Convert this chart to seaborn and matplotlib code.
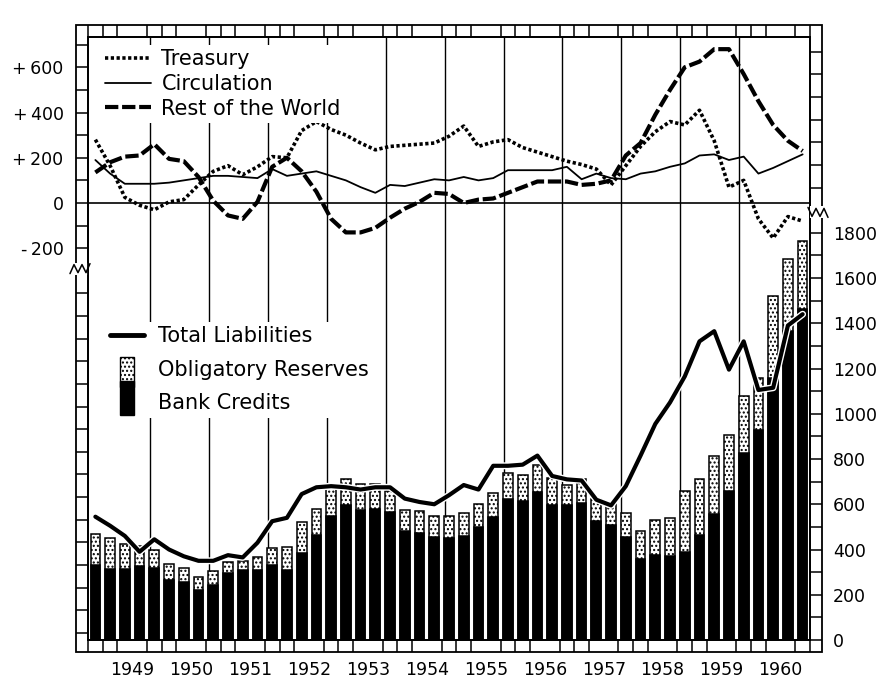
import matplotlib
matplotlib.use("Agg")
import matplotlib.pyplot as plt
import matplotlib.patheffects as pe
from matplotlib.lines import Line2D
from matplotlib.patches import Patch, Rectangle
from matplotlib.legend_handler import HandlerPatch
from matplotlib.ticker import FixedLocator, FuncFormatter
import numpy as np
import pandas as pd
import seaborn as sns

# ---------------- data (quarterly) ----------------
years = ["1949", "1950", "1951", "1952", "1953", "1954",
         "1955", "1956", "1957", "1958", "1959", "1960"]
quarter = list(range(49))

bank_credits = [330, 315, 315, 325, 320, 265, 255, 220, 245, 295,
                310, 310, 330, 310, 385, 465, 550, 595, 575, 580,
                565, 480, 475, 455, 450, 460, 500, 545, 625, 615,
                655, 595, 595, 605, 525, 510, 455, 360, 375, 370,
                390, 465, 555, 660, 825, 930, 1160, 1365, 1465]
obligatory_reserves = [140, 135, 110, 90, 80, 70, 65, 60, 60, 50,
                       40, 55, 75, 100, 135, 115, 120, 115, 115, 110,
                       95, 95, 95, 95, 100, 100, 100, 105, 115, 115,
                       120, 120, 90, 105, 100, 90, 105, 120, 155, 170,
                       270, 245, 260, 245, 255, 230, 360, 320, 300]
total_liabilities = [545, 505, 460, 390, 445, 400, 370, 350, 350, 375,
                     365, 430, 525, 540, 645, 675, 680, 675, 665, 675,
                     675, 625, 610, 600, 640, 685, 665, 770, 770, 775,
                     815, 725, 710, 705, 620, 595, 680, 815, 955, 1050,
                     1165, 1320, 1365, 1195, 1320, 1105, 1115, 1390, 1440]
treasury = [280, 165, 25, -10, -30, 5, 15, 80, 140, 165,
            125, 160, 205, 200, 320, 360, 325, 300, 265, 235,
            250, 255, 260, 265, 295, 340, 250, 270, 280, 245,
            225, 205, 185, 170, 150, 80, 165, 250, 315, 360,
            345, 410, 275, 70, 100, -70, -155, -60, -80]
circulation = [190, 130, 85, 85, 85, 90, 100, 110, 120, 120,
               115, 110, 150, 120, 130, 140, 120, 100, 70, 45,
               80, 75, 90, 105, 100, 115, 100, 110, 145, 145,
               145, 145, 160, 105, 130, 110, 105, 130, 140, 160,
               175, 210, 215, 190, 205, 130, 155, 185, 215]
rest_of_world = [135, 180, 205, 210, 260, 195, 185, 115, 10, -55,
                 -70, 5, 160, 200, 140, 50, -70, -130, -130, -110,
                 -65, -25, 5, 45, 40, 0, 15, 20, 45, 70,
                 95, 95, 95, 80, 85, 100, 210, 265, 390, 500,
                 600, 625, 680, 680, 570, 450, 345, 275, 230]

left_labels = {600: "+\u2009600", 400: "+\u2009400", 200: "+\u2009200",
               0: "0", -200: "-\u2009200"}
right_labels = [0, 200, 400, 600, 800, 1000, 1200, 1400, 1600, 1800]

# ---------------- style ----------------
sns.set_theme(style="white")
plt.rcParams.update({
    "font.family": ["DejaVu Sans"],
    "hatch.linewidth": 1.0,
    "hatch.color": "black",
    "axes.edgecolor": "black",
    "axes.linewidth": 1.3,
    "text.color": "black",
    "xtick.color": "black",
    "ytick.color": "black",
    "xtick.labelcolor": "black",
    "ytick.labelcolor": "black",
})

df = pd.DataFrame({
    "quarter": quarter,
    "bank_credits": bank_credits,
    "obligatory_reserves": obligatory_reserves,
    "total_liabilities": total_liabilities,
    "treasury": treasury,
    "circulation": circulation,
    "rest_of_world": rest_of_world,
})
df["bar_top"] = df["bank_credits"] + df["obligatory_reserves"]

W, H = 882, 686
fig = plt.figure(figsize=(W / 100, H / 100), dpi=100)
L, R, T, B = 88, 810, 37, 640          # inner frame in pixels
ax = fig.add_axes([L / W, (H - B) / H, (R - L) / W, (B - T) / H])
ax2 = ax.twinx()
PX = 4.42                                # value units per pixel (both scales)
zero_px = 203

# ---------------- bars + total liabilities (right scale) ----------------
sns.barplot(data=df, x="quarter", y="bar_top", native_scale=True, width=0.66,
            color="white", saturation=1, edgecolor="black", linewidth=1.1,
            hatch="....", errorbar=None, ax=ax2, zorder=2)
sns.barplot(data=df, x="quarter", y="bank_credits", native_scale=True, width=0.66,
            color="black", saturation=1, edgecolor="black", linewidth=1.1,
            errorbar=None, ax=ax2, zorder=3)
sns.lineplot(data=df, x="quarter", y="total_liabilities", color="black",
             linewidth=3.0, ax=ax2, zorder=4,
             path_effects=[pe.Stroke(linewidth=5, foreground="white"), pe.Normal()])

# ---------------- top lines (left scale) ----------------
for k in range(1, 12):
    ax.axvline(4 * k - 0.3, color="black", lw=1.0, zorder=0)
ax.axhline(0, color="black", lw=1.2, zorder=0)

dot_style = (0, (0.9, 0.7))
dash_style = (0, (3.2, 0.9))
sns.lineplot(data=df, x="quarter", y="treasury", color="black", linewidth=2.6,
             linestyle=dot_style, ax=ax, zorder=3)
sns.lineplot(data=df, x="quarter", y="circulation", color="black", linewidth=1.3,
             ax=ax, zorder=3)
sns.lineplot(data=df, x="quarter", y="rest_of_world", color="black", linewidth=3.0,
             linestyle=dash_style, ax=ax, zorder=3)

# ---------------- limits & ticks ----------------
ax.set_xlim(-0.3, 48.4)
ax.set_ylim(-(B - zero_px) * PX, (zero_px - T) * PX)
ax2.set_ylim(0, (B - T) * PX)

ax.set_xticks([4 * k + 2.5 for k in range(12)])
ax.set_xticklabels(years)
ax.set_xticks([i + 0.5 for i in range(-1, 49)], minor=True)
ax.tick_params(axis="x", which="major", length=0, pad=15, labelsize=12.5,
               bottom=True, top=False, labelcolor="black")
ax.tick_params(axis="x", which="minor", direction="out", length=8.6, width=1.1,
               bottom=True, top=True, color="black")

ax.yaxis.set_major_locator(FixedLocator(list(range(-1900, 701, 100))))
ax.yaxis.set_major_formatter(FuncFormatter(lambda v, p: left_labels.get(int(round(v)), "")))
ax.tick_params(axis="y", which="major", direction="out", length=8.6, width=1.1,
               pad=9, labelsize=12.5, left=True, right=False, color="black",
               labelcolor="black")

ax2.yaxis.set_major_locator(FixedLocator(list(range(0, 2601, 100))))
ax2.yaxis.set_major_formatter(FuncFormatter(
    lambda v, p: str(int(round(v))) if int(round(v)) in right_labels else ""))
ax2.tick_params(axis="y", which="major", direction="out", length=8.6, width=1.1,
                pad=8, labelsize=12.5, right=True, left=False, color="black",
                labelcolor="black")
for a in (ax, ax2):
    a.set_xlabel("")
    a.set_ylabel("")
    a.grid(False)

# outer ruler frame
dx, dy = 12 / (R - L), 12 / (B - T)
ax.add_patch(Rectangle((-dx, -dy), 1 + 2 * dx, 1 + 2 * dy, transform=ax.transAxes,
                       fill=False, lw=1.3, edgecolor="black", clip_on=False, zorder=5))

# scale breaks
def zigzag(a, x0_px, y_frac, side):
    xs = np.array([-4, 0, 4, 8, 12, 16]) * side
    ys = np.array([5, -4, 4, -4, 4, -5])
    a.add_patch(Rectangle((x0_px / (R - L) + (-2 if side > 0 else -16) / (R - L), y_frac - 6 / (B - T)),
                          18 / (R - L), 12 / (B - T), transform=a.transAxes,
                          facecolor="white", edgecolor="none", clip_on=False, zorder=6))
    a.plot(x0_px / (R - L) + xs / (R - L), y_frac + ys / (B - T), color="black",
           lw=1.1, transform=a.transAxes, clip_on=False, zorder=7)

ylo, yhi = ax.get_ylim()
zigzag(ax, -2, (-290 - ylo) / (yhi - ylo), -1)
zigzag(ax2, (R - L) + 2, 1890 / ((B - T) * PX), 1)

# ---------------- legends ----------------
h_tr = Line2D([], [], color="black", lw=2.6, linestyle=dot_style)
h_ci = Line2D([], [], color="black", lw=1.3)
h_rw = Line2D([], [], color="black", lw=3.0, linestyle=dash_style)
leg1 = ax.legend([h_tr, h_ci, h_rw], ["Treasury", "Circulation", "Rest of the World"],
                 loc="upper left", bbox_to_anchor=(0.018, 0.987), borderaxespad=0,
                 borderpad=0.2, handlelength=2.2, handletextpad=0.5, labelspacing=0.23,
                 fontsize=15, frameon=True, fancybox=False, edgecolor="none",
                 facecolor="white", framealpha=1, labelcolor="black")

h_tl = Line2D([], [], color="black", lw=3.5)
h_res = Patch(facecolor="white", edgecolor="black", hatch="....", linewidth=1.0)
h_bc = Patch(facecolor="black", edgecolor="black", linewidth=1.0)

def res_bar(legend, orig_handle, xdescent, ydescent, width, height, fontsize):
    return Rectangle((-xdescent + 0.3 * width, -ydescent - 0.55 * fontsize),
                     0.4 * width, height + 0.75 * fontsize)

def bc_bar(legend, orig_handle, xdescent, ydescent, width, height, fontsize):
    return Rectangle((-xdescent + 0.3 * width, -ydescent - 0.25 * fontsize),
                     0.4 * width, height + 0.9 * fontsize)

leg2 = ax2.legend([h_tl, h_res, h_bc], ["Total Liabilities", "Obligatory Reserves", "Bank Credits"],
                  loc="upper left", bbox_to_anchor=(0.025, 0.527), borderaxespad=0,
                  borderpad=0.2, handlelength=1.6, handletextpad=0.7, labelspacing=0.65,
                  fontsize=15, frameon=True, fancybox=False, edgecolor="none",
                  facecolor="white", framealpha=1, labelcolor="black",
                  handler_map={h_res: HandlerPatch(patch_func=res_bar),
                               h_bc: HandlerPatch(patch_func=bc_bar)})

fig.savefig("out.png", dpi=100)
